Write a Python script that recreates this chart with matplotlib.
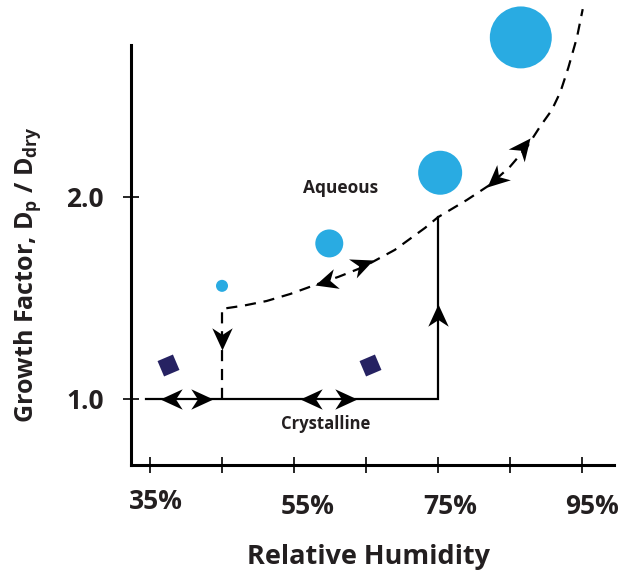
import numpy as np
import matplotlib
matplotlib.use('Agg')
from matplotlib import pyplot as plt
from matplotlib.markers import MarkerStyle
from matplotlib.path import Path
from matplotlib.transforms import Affine2D, ScaledTranslation

plt.rcParams['font.family'] = ['Open Sans', 'DejaVu Sans']
plt.rcParams['font.weight'] = 'bold'
plt.rcParams['mathtext.fontset'] = 'custom'
plt.rcParams['mathtext.rm'] = 'Open Sans:bold'
plt.rcParams['mathtext.it'] = 'Open Sans:bold'
plt.rcParams['mathtext.bf'] = 'Open Sans:bold'

INK = '#231f20'
BLUE = '#29abe2'
NAVY = '#262262'

# humidity axis ticks
rh_ticks = [35, 45, 55, 65, 75, 85, 95]
rh_labels = ['35%', '', '55%', '', '75%', '', '95%']
gf_ticks = [1.0, 2.0]
gf_labels = ['1.0', '2.0']

# solid (crystalline) branch: flat, then jump at deliquescence
solid_rh = [34.4, 75.0, 75.0]
solid_gf = [1.0, 1.0, 1.90]

# dashed (aqueous) branch, efflorescence drop at 45%
aq_rh = [45.0, 45.0, 48.0, 51.2, 54.5, 57.9, 61.2, 64.6, 69.0, 73.2, 75.0, 79.0,
         82.2, 85.0, 87.4, 89.2, 90.8, 92.0, 93.1, 94.3, 95.1]
aq_gf = [1.0, 1.446, 1.462, 1.485, 1.52, 1.564, 1.605, 1.653, 1.738, 1.847, 1.90,
         1.985, 2.06, 2.15, 2.25, 2.35, 2.43, 2.52, 2.64, 2.79, 2.93]

# droplets (circles) and dry crystals (diamonds)
drop_rh = [45.0, 59.9, 75.3, 86.5]
drop_gf = [1.56, 1.77, 2.12, 2.79]
drop_size = [75, 406, 1004, 1990]
cryst_rh = [37.5, 65.6]
cryst_gf = [1.17, 1.17]

# arrow heads as (point behind, tip)
heads = [((39.0, 1.0), (36.4, 1.0)),
         ((41.0, 1.0), (43.75, 1.0)),
         ((58.5, 1.0), (55.8, 1.0)),
         ((61.0, 1.0), (63.75, 1.0)),
         ((75.0, 1.38), (75.0, 1.47)),
         ((45.0, 1.33), (45.0, 1.243)),
         ((60.3, 1.59), (57.9, 1.564)),
         ((63.6, 1.655), (66.0, 1.69)),
         ((84.0, 2.12), (81.8, 2.05)),
         ((85.8, 2.20), (87.8, 2.29))]

fig = plt.figure(figsize=(6.23, 5.71), dpi=100)
ax = fig.add_axes([131 / 623, 106 / 571, 487 / 623, 470 / 571])
ax.set_xlim(32.36, 100)
ax.set_ylim(0.673, 3.0)

ax.plot(solid_rh, solid_gf, '-', color='black', lw=1.6, solid_joinstyle='miter')
ax.plot(aq_rh, aq_gf, color='black', lw=1.6, dashes=(5, 3.5))

ax.scatter(drop_rh, drop_gf, s=drop_size, color=BLUE, lw=0, zorder=3)
ax.scatter(cryst_rh, cryst_gf, s=290, marker=(4, 0, -22), color=NAVY, lw=0, zorder=3)

# stealth arrowhead with its tip at the origin, pointing along +x
stealth = Path([(0, 0), (-1, 0.46), (-0.7, 0), (-1, -0.46), (0, 0)],
               [Path.MOVETO, Path.LINETO, Path.LINETO, Path.LINETO, Path.CLOSEPOLY])
for back, tip in heads:
    p0 = ax.transData.transform(back)
    p1 = ax.transData.transform(tip)
    ang = np.degrees(np.arctan2(p1[1] - p0[1], p1[0] - p0[0]))
    m = MarkerStyle(stealth, transform=Affine2D().rotate_deg(ang))
    ax.plot(tip[0], tip[1], marker=m, ms=32, color='black', mew=0, zorder=4)

ax.text(61.4, 2.045, 'Aqueous', ha='center', va='center', fontsize=12.5, color=INK)
ax.text(59.4, 0.876, 'Crystalline', ha='center', va='center', fontsize=12, color=INK)

for side in ['top', 'right']:
    ax.spines[side].set_visible(False)
for side in ['left', 'bottom']:
    ax.spines[side].set_linewidth(2.2)
    ax.spines[side].set_color('black')
ax.spines['left'].set_bounds(0.673, 2.75)
ax.spines['bottom'].set_bounds(32.36, 99.5)

ax.set_xticks(rh_ticks)
ax.set_xticklabels(rh_labels)
ax.set_yticks(gf_ticks)
ax.set_yticklabels(gf_labels)
ax.tick_params(direction='inout', length=11, width=1.2, color='black',
               labelsize=19, labelcolor=INK)
ax.tick_params(axis='x', pad=15)
ax.tick_params(axis='y', pad=14)

# labels sit a little right of their ticks; the first one a bit higher
shift = {'35%': (4, 4), '55%': (10, 0), '75%': (9, 0), '95%': (7, 0)}
for lab in ax.get_xticklabels():
    dx, dy = shift.get(lab.get_text(), (0, 0))
    lab.set_transform(lab.get_transform() + ScaledTranslation(dx / 72, dy / 72, fig.dpi_scale_trans))

fig.text(368 / 623, 1 - 557 / 571, 'Relative Humidity', ha='center', va='center',
         fontsize=19.5, color=INK)
fig.text(28 / 623, 1 - 275 / 571, r'Growth Factor, D$_{p}$ / D$_{dry}$',
         ha='center', va='center', rotation=90, fontsize=18, color=INK)

fig.savefig('out.png', dpi=100)
